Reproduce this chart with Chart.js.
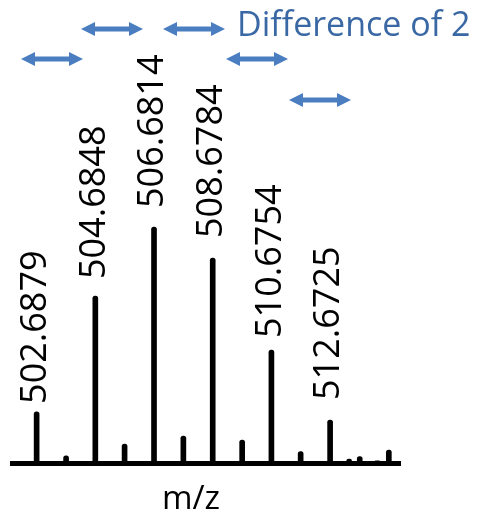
<!DOCTYPE html>
<html>
<head>
<meta charset="utf-8">
<script src="https://cdn.jsdelivr.net/npm/chart.js@4.4.1/dist/chart.umd.min.js"></script>
<style>
  html, body { margin: 0; padding: 0; background: #fff; }
  #wrap { width: 481px; height: 523px; }
</style>
</head>
<body>
<div id="wrap"><canvas id="spec"></canvas></div>
<script>
// peak list (m/z, relative intensity)
const peakMz = [502.6879, 503.69, 504.6848, 505.68, 506.6814, 507.68, 508.6784, 509.68,
  510.6754, 511.67, 512.6725, 513.32, 513.68, 514.28, 514.67];
const peakIntensity = [21.8, 3.2, 70.8, 8.2, 100, 11.6, 86.9, 9.9, 48.0, 5.0, 18.4, 1.9, 2.9, 1.1, 5.7];

// peaks that get a m/z label
const labelledMz = [502.6879, 504.6848, 506.6814, 508.6784, 510.6754, 512.6725];

// "difference of 2" arrows, start/end in m/z
const arrowStart = [504.197, 506.987, 502.156, 509.130, 511.274];
const arrowEnd = [506.307, 509.096, 504.265, 511.240, 513.383];

const FONT = '"Open Sans", "Noto Sans", sans-serif';
const ARROW_BLUE = '#4a7ec0';

const annotationPlugin = {
  id: 'specAnnotations',
  afterDatasetsDraw(chart, args, opts) {
    const { ctx, chartArea, scales: { x } } = chart;
    const meta = chart.getDatasetMeta(0);
    ctx.save();

    // rotated m/z labels above the peaks
    ctx.fillStyle = '#000';
    ctx.font = '36px ' + FONT;
    ctx.textAlign = 'left';
    ctx.textBaseline = 'middle';
    labelledMz.forEach((mz, i) => {
      const el = meta.data[peakMz.indexOf(mz)];
      ctx.save();
      ctx.translate(el.x - 1, el.y - opts.labelGap[i]);
      ctx.rotate(-Math.PI / 2);
      ctx.fillText(mz.toFixed(4), 0, 0);
      ctx.restore();
    });

    // double headed arrows
    ctx.fillStyle = ARROW_BLUE;
    ctx.strokeStyle = ARROW_BLUE;
    arrowStart.forEach((s, i) => {
      const x0 = x.getPixelForValue(s);
      const x1 = x.getPixelForValue(arrowEnd[i]);
      const y = opts.arrowRow[i];
      const head = 14, half = 7;
      ctx.lineWidth = 5;
      ctx.beginPath();
      ctx.moveTo(x0 + head - 2, y);
      ctx.lineTo(x1 - head + 2, y);
      ctx.stroke();
      ctx.beginPath();
      ctx.moveTo(x0, y);
      ctx.lineTo(x0 + head, y - half);
      ctx.lineTo(x0 + head, y + half);
      ctx.closePath();
      ctx.fill();
      ctx.beginPath();
      ctx.moveTo(x1, y);
      ctx.lineTo(x1 - head, y - half);
      ctx.lineTo(x1 - head, y + half);
      ctx.closePath();
      ctx.fill();
    });

    ctx.fillStyle = '#3a68a4';
    ctx.font = '34px ' + FONT;
    ctx.textAlign = 'left';
    ctx.textBaseline = 'alphabetic';
    ctx.fillText('Difference of 2', 237, 36);

    // axis title
    ctx.fillStyle = '#000';
    ctx.font = '33px ' + FONT;
    ctx.textAlign = 'center';
    ctx.fillText('m/z', (chartArea.left + chartArea.right) / 2 - 15, 509);

    ctx.restore();
  }
};

new Chart(document.getElementById('spec'), {
  type: 'bar',
  data: {
    datasets: [{
      data: peakMz.map((mz, i) => ({ x: mz, y: peakIntensity[i] })),
      backgroundColor: '#000',
      borderWidth: 0,
      barThickness: 5,
      borderRadius: 2.5,
      borderSkipped: 'start',
    }]
  },
  options: {
    responsive: true,
    maintainAspectRatio: false,
    animation: false,
    layout: { padding: { left: 12, right: 81, top: 0, bottom: 59.5 } },
    plugins: {
      legend: { display: false },
      tooltip: { enabled: false },
      specAnnotations: {
        labelGap: [8, 17, 19, 20, 12, 20],
        arrowRow: [29, 29, 59, 59, 100],
      },
    },
    scales: {
      x: {
        type: 'linear',
        offset: false,
        min: 501.85,
        max: 515.05,
        ticks: { display: false },
        grid: { display: false, drawTicks: false, offset: false },
        border: { display: true, width: 5, color: '#000' },
      },
      y: {
        display: false,
        min: 0,
        max: 196,
      },
    },
  },
  plugins: [annotationPlugin],
});
</script>
</body>
</html>
